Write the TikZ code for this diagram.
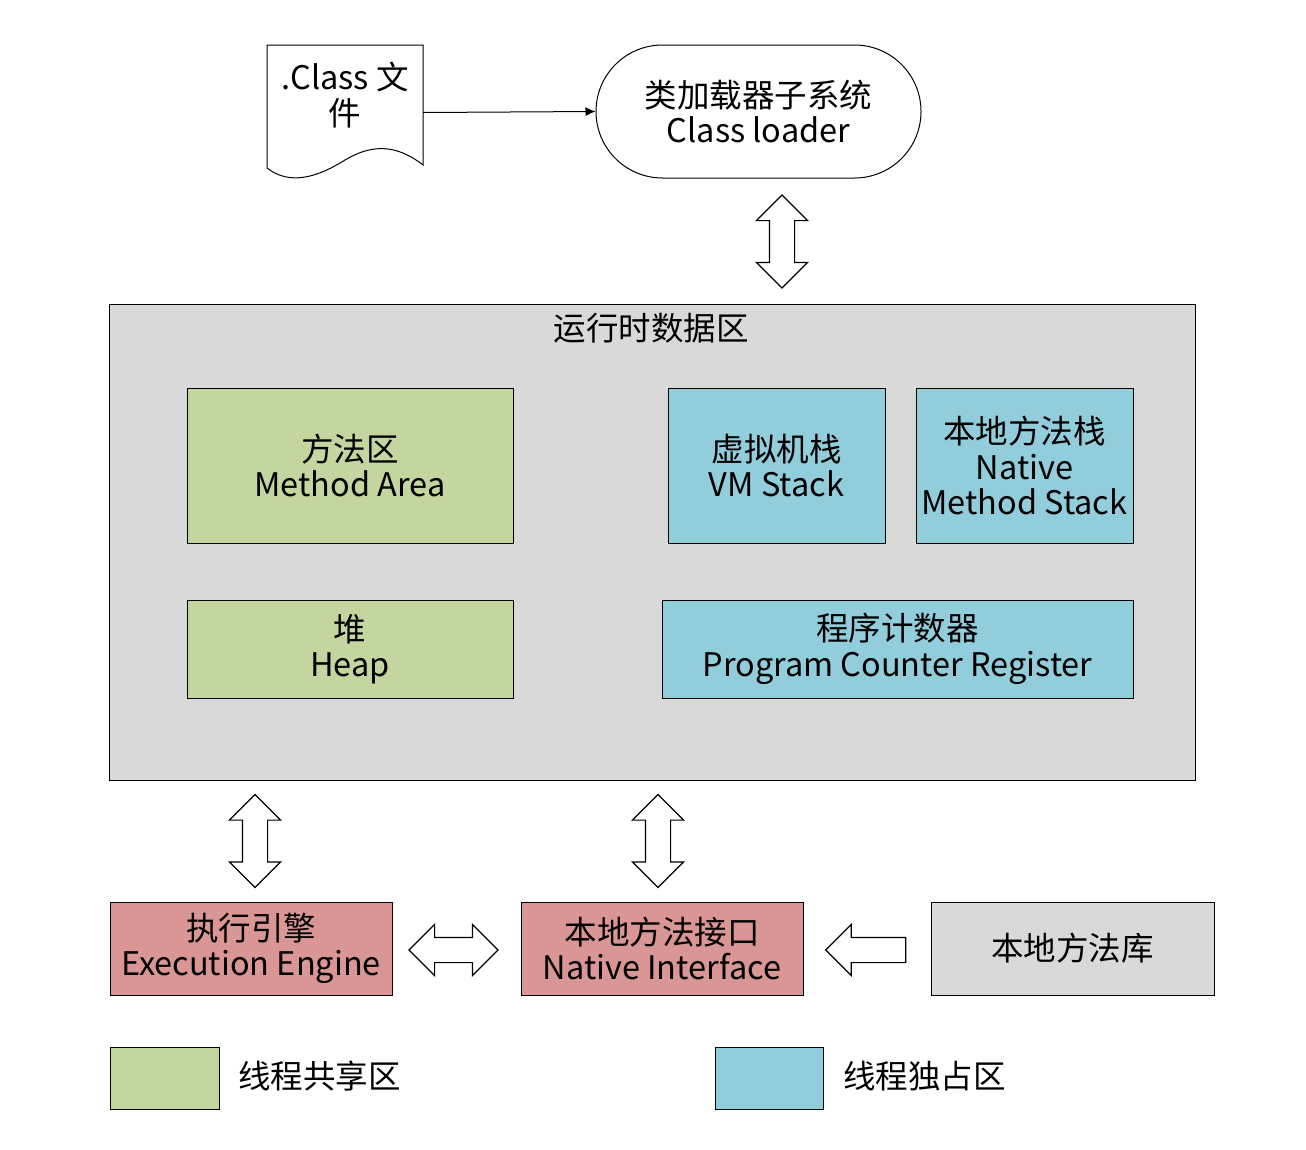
\documentclass[tikz,border=0pt]{standalone}
\usepackage{fontspec}
\setmainfont{Noto Sans CJK SC}
\usetikzlibrary{positioning,shapes.misc,shapes.arrows,arrows.meta}
\definecolor{sharedcol}{HTML}{C4D6A0}
\definecolor{ownedcol}{HTML}{92CDDC}
\definecolor{enginecol}{HTML}{D99694}
\definecolor{areacol}{HTML}{D9D9D9}
\begin{document}
\begin{tikzpicture}[x=1bp,y=-1bp,line join=miter,
  every node/.style={font=\fontsize{32.5bp}{35.5bp}\selectfont,align=center},
  box/.style={draw,line width=1bp,inner sep=0pt},
  shared/.style={box,fill=sharedcol},
  owned/.style={box,fill=ownedcol},
  engine/.style={box,fill=enginecol},
  vbiarrow/.style={draw,line width=1.2bp,fill=white,double arrow,shape border rotate=90,
    inner sep=12bp,double arrow head extend=13bp,minimum height=93bp},
  hbiarrow/.style={draw,line width=1.2bp,fill=white,double arrow,
    inner sep=12bp,double arrow head extend=13bp,minimum height=89bp},
  larrow/.style={draw,line width=1.2bp,fill=white,single arrow,shape border rotate=180,
    inner sep=12bp,single arrow head extend=13bp,minimum height=80bp}]
  \useasboundingbox (0,0) rectangle (1306,1149);
%%
  % Node: classfile
  \node[minimum width=156bp,minimum height=135bp] (classfile) at (345,112.5) {};
  \draw[line width=1bp,fill=white] (267,45) -- (423,45) -- (423,165)
    .. controls (395,143) and (370,145) .. (345,160)
    .. controls (318,177) and (290,186) .. (267,168) -- cycle;
  \node (classfiletext) at (345,95) {.Class 文\\件};
  % Node: loader
  \node[draw,line width=1bp,rounded rectangle,minimum width=325bp,minimum height=133bp,inner sep=0pt]
    (loader) at (758.5,111.5) {类加载器子系统\\Class loader};
  % Edge: classfile -> loader
  \draw[line width=1bp,-{Latex[length=10bp,width=9bp]}] (classfile.east) -- (loader.west);
  % Node: runtime
  \node[box,fill=areacol,minimum width=1085bp,minimum height=476bp] (runtime) at (652.5,542) {};
  \node (runtimetitle) at (651,328) {运行时数据区};
  % Node: method
  \node[shared,minimum width=326bp,minimum height=155bp] (method) at (350,465.5) {方法区\\Method Area};
  % Node: vmstack
  \node[owned,minimum width=217bp,minimum height=155bp] (vmstack) at (776.5,465.5) {虚拟机栈\\VM Stack};
  % Node: nativestack
  \node[owned,minimum width=217bp,minimum height=155bp] (nativestack) at (1024.5,465.5) {本地方法栈\\Native\\Method Stack};
  % Node: heap
  \node[shared,minimum width=326bp,minimum height=98bp] (heap) at (350,649) {堆\\Heap};
  % Node: pcreg
  \node[owned,minimum width=471bp,minimum height=98bp] (pcreg) at (897.5,649) {程序计数器\\Program Counter Register};
  % Node: engine
  \node[engine,minimum width=282bp,minimum height=93bp] (engine) at (251,948.5) {执行引擎\\Execution Engine};
  % Node: nativeif
  \node[engine,minimum width=282bp,minimum height=93bp] (nativeif) at (662,948.5) {本地方法接口\\Native Interface};
  % Node: nativelib
  \node[box,fill=areacol,minimum width=283bp,minimum height=93bp] (nativelib) at (1072.5,948.5) {本地方法库};
  % Edge: loader <-> runtime
  \node[vbiarrow] (loaderarrow) at (782,241.5) {};
  % Edge: runtime <-> engine
  \node[vbiarrow] (enginearrow) at (255,841) {};
  % Edge: runtime <-> nativeif
  \node[vbiarrow] (nativeifarrow) at (658,841) {};
  % Edge: engine <-> nativeif
  \node[hbiarrow] (jniarrow) at (453.5,950) {};
  % Edge: nativelib -> nativeif
  \node[larrow] (libarrow) at (872,950) {};
  % Node: legend
  \node[shared,minimum width=109bp,minimum height=62bp] (sharedkey) at (164.5,1078) {};
  \node[anchor=west,inner sep=0pt] (sharedtext) at (238,1076) {线程共享区};
  \node[owned,minimum width=108bp,minimum height=62bp] (ownedkey) at (769,1078) {};
  \node[anchor=west,inner sep=0pt] (ownedtext) at (843,1076) {线程独占区};
%
\end{tikzpicture}
\end{document}
